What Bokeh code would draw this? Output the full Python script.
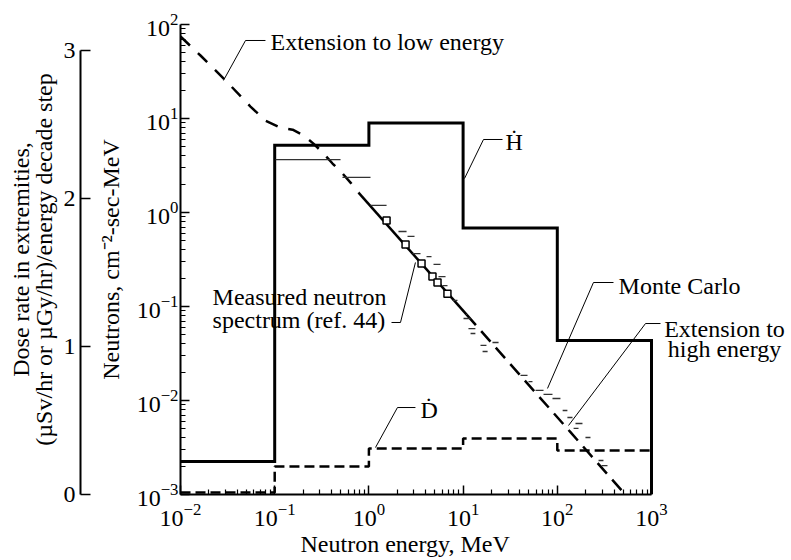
from bokeh.plotting import figure
from bokeh.models import (Range1d, LinearAxis, FixedTicker, LogTickFormatter,
                          LinearScale, Title)
from bokeh.embed import file_html
from bokeh.resources import INLINE
from bokeh.core.properties import value

# ---------------- data ----------------
# energy decades (MeV) used as bins of the dose-rate histograms
bin_edges = [1e-2, 1e-1, 1e0, 1e1, 1e2, 1e3]
# dose rate per energy decade step (uSv/hr)
h_dot = [0.223, 2.36, 2.51, 1.80, 1.04]
d_dot = [0.014, 0.19, 0.31, 0.378, 0.297]

# extension of spectrum to low energy (MeV, neutrons/cm2-sec-MeV)
low_e = [0.01, 0.0163, 0.0301, 0.0553, 0.0798, 0.115, 0.155, 0.202, 0.258,
         0.322, 0.411, 0.525, 0.638, 0.776]
low_n = [74.5, 46.8, 25.4, 13.4, 9.5, 8.0, 7.6, 6.6, 5.4, 4.35, 3.32, 2.60,
         2.08, 1.63]

# measured neutron spectrum (ref. 44)
meas_e = [0.776, 10.9]
meas_n = [1.63, 0.082]
meas_pts_e = [1.54, 2.45, 3.62, 4.73, 5.35, 6.82]
meas_pts_n = [0.822, 0.457, 0.286, 0.208, 0.180, 0.137]

# extension to high energy
high_e = [10.9, 138, 505]
high_n = [0.082, 0.0046, 0.00105]

# Monte Carlo histogram pieces
mc_lo = [0.102, 0.524, 1.04, 2.06, 2.57, 2.90, 4.09, 4.85, 5.48, 6.04, 7.72,
         10.1, 11.4, 12.0, 15.3, 16.1, 20.5, 40.7, 49.5, 58.7, 71.4, 88.9,
         114, 128, 156, 149, 199, 274, 295]
mc_hi = [0.50, 1.04, 1.54, 2.51, 3.05, 3.53, 4.62, 5.76, 6.51, 6.83, 8.72,
         12.0, 13.5, 13.5, 17.7, 18.2, 23.8, 48.3, 54.5, 71.4, 88.9, 108,
         128, 145, 185, 168, 225, 309, 341]
mc_n = [3.66, 2.36, 1.19, 0.628, 0.556, 0.366, 0.340, 0.280, 0.208, 0.167,
        0.116, 0.0745, 0.0583, 0.0516, 0.0385, 0.0332, 0.0414, 0.0185,
        0.0159, 0.0128, 0.0116, 0.0105, 0.00783, 0.00659, 0.00569, 0.00504,
        0.00404, 0.00230, 0.00203]

x_ticks = [1e-2, 1e-1, 1e0, 1e1, 1e2, 1e3]
y_ticks = [1e-3, 1e-2, 1e-1, 1e0, 1e1, 1e2]
dose_ticks = [0, 1, 2, 3]

# ---------------- figure ----------------
FONT = "Liberation Serif"
FS = "24px"

p = figure(width=790, height=558, x_axis_type="log", y_axis_type="log",
           x_range=Range1d(1e-2, 10 ** 4.4756), y_range=Range1d(1e-3, 1e2),
           output_backend="svg", toolbar_location=None,
           min_border_left=180, min_border_top=24, min_border_bottom=64,
           min_border_right=0)
p.outline_line_color = None
p.xgrid.grid_line_color = None
p.ygrid.grid_line_color = None
p.background_fill_color = "white"
p.border_fill_color = "white"

p.extra_y_ranges = {"dose": Range1d(0, 470.0 / 148.0)}
p.extra_y_scales = {"dose": LinearScale()}


def minor(decs):
    return [k * 10.0 ** d for d in decs for k in range(2, 10)]


for ax, ticks, decs in ((p.xaxis[0], x_ticks, range(-2, 3)),
                        (p.yaxis[0], y_ticks, range(-3, 2))):
    ax.ticker = FixedTicker(ticks=ticks, minor_ticks=minor(decs))
    ax.formatter = LogTickFormatter()
    ax.bounds = (ticks[0], ticks[-1])
    ax.axis_line_width = 2
    ax.major_tick_in = 9
    ax.major_tick_out = 0
    ax.minor_tick_in = 5
    ax.minor_tick_out = 0
    ax.major_tick_line_width = 1.5
    ax.minor_tick_line_width = 1.2
    ax.major_label_text_font = FONT
    ax.major_label_text_font_size = FS
    ax.axis_label_text_font = FONT
    ax.axis_label_text_font_size = FS
    ax.axis_label_text_font_style = "normal"
    ax.axis_label_text_color = "black"
    ax.major_label_text_color = "black"

p.xaxis[0].major_label_standoff = 9
p.yaxis[0].axis_label = "Neutrons, cm\u207b\u00b2-sec-MeV"
p.yaxis[0].major_label_standoff = 2
p.yaxis[0].axis_label_standoff = 10

# x-axis title, placed under the bounded part of the axis
xtitle = Title(text="Neutron energy, MeV", align="left", offset=120,
               text_font=FONT, text_font_size=FS, text_font_style="normal",
               text_color="black", standoff=0)
p.add_layout(xtitle, "below")

# empty axis that only keeps a gap between the two vertical scales
spacer = LinearAxis(y_range_name="dose", ticker=FixedTicker(ticks=[]),
                    axis_label="\u00a0")
spacer.axis_line_color = None
spacer.major_tick_line_color = None
spacer.minor_tick_line_color = None
spacer.major_label_text_font_size = "0px"
spacer.major_label_standoff = 0
spacer.axis_label_standoff = 0
spacer.axis_label_text_font_size = "10px"
p.add_layout(spacer, "left")

dose_axis = LinearAxis(y_range_name="dose",
                       ticker=FixedTicker(ticks=dose_ticks),
                       bounds=(0, 3),
                       axis_label="Dose rate in extremities,\n(\u00b5Sv/hr or \u00b5Gy/hr)/energy decade step")
dose_axis.axis_line_width = 2
dose_axis.major_tick_in = 10
dose_axis.major_tick_out = 0
dose_axis.major_tick_line_width = 1.5
dose_axis.minor_tick_line_color = None
dose_axis.major_label_text_font = FONT
dose_axis.major_label_text_font_size = FS
dose_axis.major_label_text_color = "black"
dose_axis.major_label_standoff = 5
dose_axis.axis_label_text_font = FONT
dose_axis.axis_label_text_font_size = FS
dose_axis.axis_label_text_font_style = "normal"
dose_axis.axis_label_text_color = "black"
dose_axis.axis_label_standoff = 4
dose_axis.axis_label_text_line_height = 0.85
p.add_layout(dose_axis, "left")


def steps(edges, vals):
    xs, ys = [], []
    for i, v in enumerate(vals):
        xs += [edges[i], edges[i + 1]]
        ys += [v, v]
    xs.append(edges[-1])
    ys.append(0)
    return xs, ys


hx, hy = steps(bin_edges, h_dot)
p.line(hx, hy, y_range_name="dose", line_width=3, color="black",
       line_join="miter")
dx, dy = steps(bin_edges, d_dot)
p.line(dx, dy, y_range_name="dose", line_width=2.5, color="black",
       line_dash="10 5")

# spectrum
p.line(low_e, low_n, line_width=2.5, color="black", line_dash="13 11")
p.line(meas_e, meas_n, line_width=2.5, color="black")
p.line(high_e, high_n, line_width=2.5, color="black", line_dash="14 8")
p.segment(x0=mc_lo, x1=mc_hi, y0=mc_n, y1=mc_n, line_width=1.3,
          color="#333333")
p.scatter(meas_pts_e, meas_pts_n, marker="square", size=7,
          fill_color="white", line_color="black", line_width=1.5)

# leader lines (positions in data coordinates)
leader_x = [[0.0286, 0.049, 0.0798], [10.35, 16.47, 26.2],
            [3.12, 2.165, 1.738], [1.175, 2.01, 3.12],
            [78.7, 242, 395], [131.5, 864, 1246]]
leader_y = [[25.4, 67.6, 67.6], [2.30, 5.98, 5.98],
            [0.294, 0.0676, 0.0676], [3.16e-3, 8.42e-3, 8.42e-3],
            [0.01343, 0.180, 0.180], [0.00542, 0.0659, 0.0659]]
p.multi_line(leader_x, leader_y, line_width=1, color="black")

labels_left = dict(
    x=[0.0902, 28.2, 0.0219, 0.0219, 3.53, 447],
    y=[65.9, 5.56, 0.1247, 0.0710, 7.83e-3, 0.167],
    text=["Extension to low energy", "\u1e22", "Measured neutron",
          "spectrum (ref. 44)", "\u1e0a", "Monte Carlo"])
p.text(x=labels_left["x"], y=labels_left["y"], text=labels_left["text"],
       text_font=value(FONT), text_font_size=FS, text_align="left",
       text_baseline="middle", text_color="black")
p.text(x=[5957, 5957], y=[0.0583, 0.0357],
       text=["Extension to", "high energy"],
       text_font=value(FONT), text_font_size=FS, text_align="center",
       text_baseline="middle", text_color="black")

open("out.html", "w").write(file_html(p, INLINE))
